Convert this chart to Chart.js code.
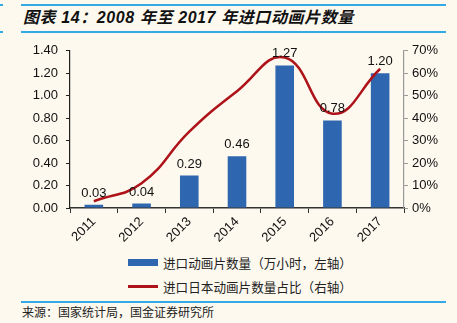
<!DOCTYPE html>
<html>
<head>
<meta charset="utf-8">
<script src="https://cdn.jsdelivr.net/npm/chart.js@4"></script>
<style>
  html, body { margin: 0; padding: 0; background: #FDF9EF; }
  body { width: 457px; height: 323px; position: relative; overflow: hidden; font-family: "Liberation Sans", Arial, sans-serif; }
  .rule { position: absolute; left: 21px; width: 425px; height: 2px; background: #33A9E6; }
  .stub { position: absolute; left: 0; width: 3px; height: 2px; background: #33A9E6; }
  #title { position: absolute; left: 23px; top: 4px; font: italic bold 16px "Liberation Sans", "Noto Sans CJK SC", sans-serif; color: #111; letter-spacing: 0.6px; }
  #wrap { position: absolute; left: 0; top: 35px; width: 457px; height: 215px; }
  .leg { position: absolute; left: 128px; font: 12.6px "Noto Sans CJK SC", sans-serif; color: #222; display: flex; align-items: center; }
  .leg i { display: inline-block; width: 30px; margin-right: 5px; }
  #src { position: absolute; left: 22px; top: 303px; font: 12px "Noto Sans CJK SC", sans-serif; color: #222; }
</style>
</head>
<body>
<div class="rule" style="top:4px"></div>
<div class="stub" style="top:4px"></div>
<div id="title">图表 14：2008 年至 2017 年进口动画片数量</div>
<div class="rule" style="top:31px"></div>
<div class="stub" style="top:31px"></div>
<div id="wrap"><canvas id="c"></canvas></div>
<div class="leg" style="top:253px"><i style="height:7px;background:#2F66B0"></i><span id="l1"></span></div>
<div class="leg" style="top:277px"><i style="height:3px;background:#AE1319"></i><span id="l2"></span></div>
<div class="rule" style="top:301px"></div>
<div id="src">来源：国家统计局，国金证券研究所</div>
<script>
'use strict';

const YEARS      = ['2011', '2012', '2013', '2014', '2015', '2016', '2017'];
const HOURS      = [0.03, 0.04, 0.29, 0.46, 1.27, 0.78, 1.20];
const JAPAN_PCT  = [3, 11, 34, 52, 67, 42, 62];
const LEFT_TICKS = [0, 0.2, 0.4, 0.6, 0.8, 1.0, 1.2, 1.4];
const BAR_LABEL  = '进口动画片数量（万小时，左轴）';
const LINE_LABEL = '进口日本动画片数量占比（右轴）';

document.getElementById('l1').textContent = BAR_LABEL;
document.getElementById('l2').textContent = LINE_LABEL;

// 막대 위 값 표시
const barValues = {
  id: 'barValues',
  afterDatasetsDraw(chart) {
    const { ctx } = chart;
    const meta = chart.getDatasetMeta(1);
    ctx.save();
    ctx.font = '13px "Liberation Sans", Arial, sans-serif';
    ctx.fillStyle = '#111';
    ctx.textAlign = 'center';
    ctx.textBaseline = 'bottom';
    meta.data.forEach((bar, i) => {
      ctx.fillText(HOURS[i].toFixed(2), bar.x, bar.y - 5);
    });
    ctx.restore();
  },
};

const tickFont = { family: '"Liberation Sans", Arial, sans-serif', size: 13 };

new Chart(document.getElementById('c'), {
  type: 'bar',
  plugins: [barValues],
  data: {
    labels: YEARS,
    datasets: [
      {
        type: 'line',
        label: LINE_LABEL,
        data: JAPAN_PCT,
        yAxisID: 'y2',
        borderColor: '#AE1319',
        borderWidth: 2.5,
        pointRadius: 0,
        tension: 0.45,
        order: 0,
      },
      {
        label: BAR_LABEL,
        data: HOURS,
        yAxisID: 'y',
        backgroundColor: '#2F66B0',
        categoryPercentage: 1,
        barPercentage: 0.39,
        order: 1,
      },
    ],
  },
  options: {
    responsive: true,
    maintainAspectRatio: false,
    animation: false,
    layout: { padding: { top: 13 } },
    plugins: { legend: { display: false }, tooltip: { enabled: false } },
    scales: {
      x: {
        afterFit(s) { s.height = 42; },
        grid: { drawOnChartArea: false, color: '#333', tickLength: 5, offset: true },
        border: { color: '#333', width: 1.5 },
        ticks: { color: '#111', font: tickFont, minRotation: 45, maxRotation: 45, padding: 1 },
      },
      y: {
        position: 'left',
        min: 0, max: 1.4,
        afterFit(s) { s.width = 70; },
        afterBuildTicks(s) { s.ticks = LEFT_TICKS.map(v => ({ value: v })); },
        grid: { drawOnChartArea: false, color: '#222', tickLength: 4 },
        border: { color: '#222', width: 1.2 },
        ticks: { color: '#111', font: tickFont, padding: 8, callback: v => v.toFixed(2) },
      },
      y2: {
        position: 'right',
        min: 0, max: 70,
        afterFit(s) { s.width = 53; },
        grid: { drawOnChartArea: false, color: '#999', tickLength: 4 },
        border: { color: '#999', width: 1.2 },
        ticks: { color: '#111', font: tickFont, stepSize: 10, padding: 4, callback: v => v + '%' },
      },
    },
  },
});
</script>
</body>
</html>
